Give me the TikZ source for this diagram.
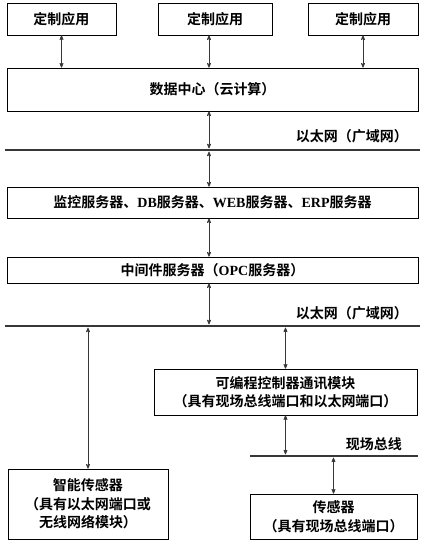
\documentclass[tikz,border=0pt]{standalone}
\usepackage{fontspec}
\setmainfont{Liberation Serif}
\newfontfamily\cjk{Noto Sans CJK SC}[BoldFont={Noto Sans CJK SC Bold}]
\newcommand{\lat}[1]{{\rmfamily\bfseries #1}}
\usetikzlibrary{arrows,shapes}

\begin{document}
\begin{tikzpicture}[x=1pt,y=-1pt]

		\definecolor{linegray}{RGB}{55,55,55}

		\tikzstyle{edge} = [draw,linegray,line width=0.7pt,stealth'-stealth']
		\tikzstyle{tobus} = [shorten >=1.6pt]
		\tikzstyle{frombus} = [shorten <=1.6pt]
		\tikzstyle{bus} = [draw,linegray,line width=2.8pt]

		\useasboundingbox (0,0) rectangle (426,547);
		\coordinate (spine) at (209,0);

		\tikzset{box/.style = {shape=rectangle,draw,line width=0.7pt,align=center,inner sep=0pt,font=\cjk\bfseries\fontsize{14}{18.5}\selectfont}}
		\tikzset{lbl/.style = {inner sep=0pt,font=\cjk\bfseries\fontsize{14}{18.5}\selectfont}}
		\node[box,minimum width=109pt,minimum height=32pt] (app1) at (61.5,19) {定制应用};
		\node[box,minimum width=114pt,minimum height=32pt] (app2) at (215,19) {定制应用};
		\node[box,minimum width=110pt,minimum height=32pt] (app3) at (363,19) {定制应用};

		\node[box,minimum width=411pt,minimum height=43pt] (dc) at (212.5,89.5) {数据中心（云计算）};
		\node[box,minimum width=411pt,minimum height=31pt] (srv) at (212.5,202.5) {监控服务器、\lat{DB}服务器、\lat{WEB}服务器、\lat{ERP}服务器};
		\node[box,minimum width=411pt,minimum height=26pt] (opc) at (212.5,270) {中间件服务器（\lat{OPC}服务器）};

		\node[box,minimum width=263pt,minimum height=46pt] (plc) at (285.5,392) {可编程控制器通讯模块\\（具有现场总线端口和以太网端口）};
		\node[box,minimum width=160pt,minimum height=70pt] (smart) at (88,504) {智能传感器\\（具有以太网端口或\\无线网络模块）};
		\node[box,minimum width=167pt,minimum height=45pt] (sens) at (333.5,516.5) {传感器\\（具有现场总线端口）};

		% bus lines
		\coordinate (wan1w) at (5,150);
		\coordinate (wan1e) at (420,150);
		\coordinate (wan2w) at (5,326);
		\coordinate (wan2e) at (420,326);
		\coordinate (fbw) at (250,456);
		\coordinate (fbe) at (418,456);
		\draw[bus] (wan1w) -- (wan1e);
		\draw[bus] (wan2w) -- (wan2e);
		\draw[bus] (fbw) -- (fbe);

		\node[lbl,anchor=east] (wan1lbl) at (408,136) {以太网（广域网）};
		\node[lbl,anchor=east] (wan2lbl) at (408,313) {以太网（广域网）};
		\node[lbl,anchor=east] (fblbl) at (402,444) {现场总线};

		\draw[edge] (app1.south) to (dc.north -| app1);
		\draw[edge] (app2.south -| spine) to (dc.north -| spine);
		\draw[edge] (app3.south) to (dc.north -| app3);
		\draw[edge,tobus] (dc.south -| spine) to (wan1w -| spine);
		\draw[edge,frombus] (wan1w -| spine) to (srv.north -| spine);
		\draw[edge] (srv.south -| spine) to (opc.north -| spine);
		\draw[edge,tobus] (opc.south -| spine) to (wan2w -| spine);
		\draw[edge,frombus] (wan2w -| smart) to (smart.north);
		\draw[edge,frombus] (wan2w -| plc) to (plc.north);
		\draw[edge,tobus] (plc.south) to (fbw -| plc);
		\draw[edge,frombus] (fbw -| sens) to (sens.north);
\end{tikzpicture}
\end{document}
